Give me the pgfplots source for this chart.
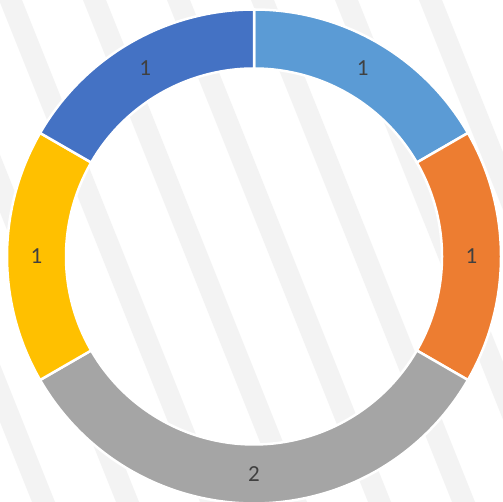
\documentclass[border=0pt]{standalone}
\usepackage{pgfplots}
\pgfplotsset{compat=1.18}
\usepackage{fontspec}
\setmainfont{Carlito}
\definecolor{cLB}{HTML}{5B9BD5}
\definecolor{cOR}{HTML}{ED7D31}
\definecolor{cGR}{HTML}{A5A5A5}
\definecolor{cYE}{HTML}{FFC000}
\definecolor{cBL}{HTML}{4472C4}
\definecolor{stripe}{HTML}{F3F3F3}
\definecolor{lbl}{HTML}{404040}
\def\cx{254}\def\cy{245.5}\def\Ro{247}\def\Ri{188}\def\total{6}
\newcommand\DonutSlice[3]{%
  \pgfmathsetmacro\angA{90-360*#1/\total}%
  \pgfmathsetmacro\angB{90-360*(#1+#2)/\total}%
  \edef\doit{\noexpand\addplot[fill=#3, draw=white, line width=2.5pt, line join=miter, domain=0:2.1, samples=211, variable=\noexpand\t]
   ({\cx+ifthenelse(\noexpand\t<1.05,\Ro,\Ri)*cos(\angA+(\angB-\angA)*ifthenelse(\noexpand\t<1.05,min(\noexpand\t,1),min(1,2.1-\noexpand\t)))},
    {\cy+ifthenelse(\noexpand\t<1.05,\Ro,\Ri)*sin(\angA+(\angB-\angA)*ifthenelse(\noexpand\t<1.05,min(\noexpand\t,1),min(1,2.1-\noexpand\t)))}) -- cycle;}%
  \doit
}
\newcommand\DonutLabel[2]{%
  \pgfmathsetmacro\angM{90-360*(#1+#2/2)/\total}%
  \pgfmathsetmacro\lx{\cx+0.5*(\Ro+\Ri)*cos(\angM)}%
  \pgfmathsetmacro\ly{\cy+0.5*(\Ro+\Ri)*sin(\angM)}%
  \edef\doit{\noexpand\node[text=lbl, font=\noexpand\fontsize{23}{23}\noexpand\selectfont, inner sep=0pt] at (axis cs:\lx,\ly) {#2};}%
  \doit
}
\newcommand\Stripe[1]{%
  \edef\doit{\noexpand\addplot[fill=stripe, draw=none] coordinates {(#1,502) (#1+23,502) (#1+224,0) (#1+201,0)} -- cycle;}%
  \doit
}
\begin{document}
\begin{tikzpicture}
\begin{axis}[scale only axis, width=503pt, height=502pt,
  xmin=0, xmax=503, ymin=0, ymax=502, hide axis, clip=true]
\addplot[fill=white, draw=none] coordinates {(0,0) (503,0) (503,502) (0,502)} -- cycle;
\Stripe{-169}\Stripe{-85}\Stripe{-1}\Stripe{83}\Stripe{167}\Stripe{251}\Stripe{335}\Stripe{419}
\DonutSlice{0}{1}{cLB}
\DonutSlice{1}{1}{cOR}
\DonutSlice{2}{2}{cGR}
\DonutSlice{4}{1}{cYE}
\DonutSlice{5}{1}{cBL}
\DonutLabel{0}{1}
\DonutLabel{1}{1}
\DonutLabel{2}{2}
\DonutLabel{4}{1}
\DonutLabel{5}{1}
\end{axis}
\end{tikzpicture}
\end{document}
